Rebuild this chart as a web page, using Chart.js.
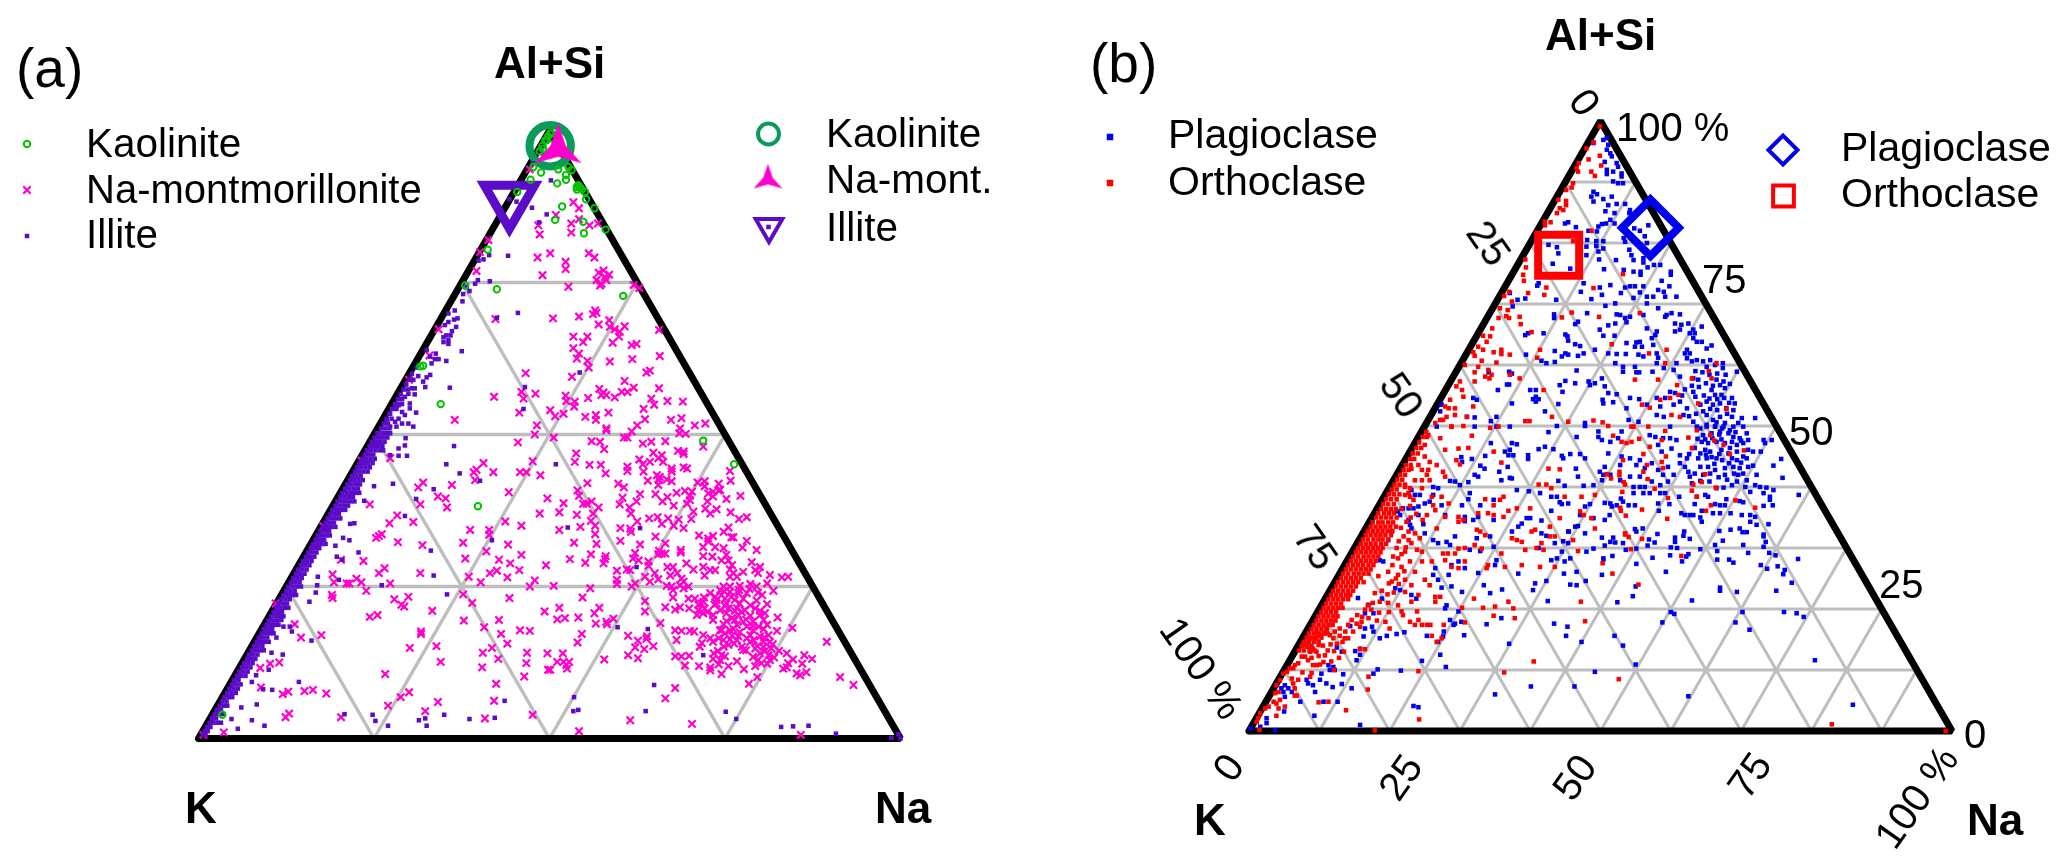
<!DOCTYPE html>
<html>
<head>
<meta charset="utf-8">
<title>Ternary plots</title>
<script src="https://cdn.jsdelivr.net/npm/chart.js@4/dist/chart.umd.js"></script>
<style>
  html, body { margin: 0; background: #fff; }
  #page { position: relative; width: 2067px; height: 863px; overflow: hidden; font-family: "Liberation Sans", Arial, sans-serif; color: #000; }
  #page canvas { position: absolute; top: 0; }
  .txt { position: absolute; white-space: pre; line-height: 1; }
</style>
</head>
<body>
<div id="page">
  <canvas id="panelA" width="1034" height="863" style="left:0"></canvas>
  <canvas id="panelB" width="1033" height="863" style="left:1034px"></canvas>
</div>
<script>
// All series are [base position %, Al+Si %].
// base position = Na + (Al+Si)/2, the usual ternary projection.
// xxxBand lists are rows for the crowded strip by the K side: [Al+Si, pos, pos, ...]

const gridA = [25, 50, 75];
const gridB = [10, 20, 30, 40, 50, 60, 70, 80, 90];

const meanKaolinite = [50.1, 97.5];
const meanNaMont = [51.25, 97.9];
const meanIllite = [44.3, 88.6];
const meanPlagioclase = [57.1, 82.5];
const meanOrthoclase = [44.05, 78];

const kaolinite = [
  45.4,89.9, 41.2,80.4, 38,74.5, 42.5,73.9, 60.5,72.8, 32,61.3, 31.6,61.2, 34.5,55, 50.8,85.3, 51.8,87.5, 54.8,85, 54.9,83.1,
  58,83.7, 56.4,87.2, 55.2,88.7, 55.05,89.9, 53.9,90.3, 54.1,91, 53.9,90.7, 54.3,90.7, 54.6,90.3, 51.1,91.3, 52.35,91.9, 52.35,92.7,
  53.15,93.5, 52.7,94, 51.25,93.6, 48.8,93.1, 47.3,91.9, 47.7,94, 50.1,99.5, 49.6,98.4, 49.1,97, 50.3,98.7, 50.5,96.8, 49,97.5,
  49.4,98.4, 49.8,99, 48.6,96.6, 50.3,99.5, 39.8,38.2, 3.4,3.9, 71.9,49, 76.3,45.1
];

const naMont = [
  41.3,82, 40.1,80, 47.2,93.6, 53.4,88.2, 54.2,87.2, 54.2,85.4, 55.7,84.4, 56.9,84.7, 53.1,84.7, 53.1,83.2, 50.9,86.1, 48.4,84.4, 48.6,82.9,
  50.1,79.8, 48.3,79.1, 55.6,79.8, 56.4,79.1, 52.3,78.4, 52.3,77.2, 49,76.2, 39.6,76.9, 57,76.6, 57.7,77, 58.5,76.3, 57.9,75.9, 56.7,75.4,
  57.4,74.8, 58.1,75.4, 57.2,74.5, 52.7,74.3, 62,74.6, 62.8,74.1, 56.5,70.4, 56.7,70, 56.2,69.8, 54.2,69.4, 50.5,69.1, 42.3,69, 34.2,67.3,
  32.9,63, 30,59, 57,68.1, 58.5,68.8, 58.6,67.7, 59.3,67.3, 60.7,67.8, 60,66.9, 59.9,66.1, 59,65.1, 65.6,67.2, 61.7,64.7, 62.4,64.9,
  53.4,66.1, 55.4,66.1, 54.8,65.2, 53.4,64.2, 54.2,63.3, 53.9,62.5, 55.4,62.1, 55.6,61, 58.6,62, 61.8,62.4, 65.7,62.9, 46.6,60.1, 53.2,59.5,
  60.7,58.8, 63.8,60.2, 64.3,60.5, 62,57.7, 65.6,57.6, 57.1,57.5, 57.4,56.5, 58.1,56.5, 57.7,56.9, 59.3,56.1, 60.3,57, 61.1,57, 42.1,56.2,
  46,57, 46.3,55.9, 48,56.7, 52.3,56.4, 52.4,55.5, 53.6,55.4, 53.5,54.6, 55.5,56, 64.5,55.9, 64.9,54.9, 66.8,55.5, 69,55.4, 63.4,54.2,
  50.1,54, 45.7,53.6, 50.8,53, 52,53.4, 36.5,52.4, 48.2,51.5, 55.1,52.9, 56.6,53.2, 56.6,52.4, 58.4,53.6, 63.6,52.5, 67.3,52.4, 68.8,52.7,
  62.5,51.5, 70.7,51.5, 72.2,51.8, 58.1,51, 68.6,51,
  47.9,50, 45.5,48.7, 47.6,45.6, 40.6,45.3, 39.6,44.2, 39.2,43.8, 42,43.8, 39.4,42.5, 45.8,43.8, 46.7,43.8, 48.7,43.3, 32,42.1, 31.3,41.3,
  36.1,41.7, 44.2,40.5, 34.1,39.8, 35.2,39.5, 31.6,38.5, 35.4,38, 49.7,39.5, 24.4,38.5, 48.6,37, 28.3,36.7, 27.2,35.4, 30.6,35.6, 43.7,35.7,
  46,35, 38.7,34.3, 41.4,34.3, 41.4,33.5, 26.1,33.6, 25.7,33.3, 25.3,33, 28.4,32.3, 31.9,31.8, 37.7,32.2, 44.1,31.9, 41,30.8, 46,30.2,
  38,29.6, 42.8,29.4, 44.4,28.8, 23.5,29.2, 20.3,29.4, 26.5,28, 25.7,27.2, 31.6,27.2, 45.7,27.7, 49.5,28.5, 42.5,27.6, 41.5,27.2, 38.5,26.6,
  44,26.5, 40.2,25.7, 47.9,26, 47.2,25, 19.1,27, 19.3,25.7, 22.5,26.3, 23.2,25.7, 21.1,25.5, 21.5,25.5, 27.3,25.5, 23.9,24.3, 19,23.6,
  19.1,23.1, 27.9,22.9, 29.9,23.3, 28.9,22, 29.3,21.7, 37.7,23.7, 39,22.3, 44.3,23.1, 33.3,21, 49.3,20.9, 24.4,20, 25.5,20.3, 37.8,19.4,
  42.8,19.5, 13.7,18.8, 40.7,18.3, 45.8,17.8, 47.2,17.7, 43.1,17.2, 31.7,17.6, 31.7,17.2, 14.6,16.6, 17.5,17, 44,15.6, 33.9,15.2, 30.1,14.9,
  41.8,14.9, 40.5,14.1, 46.8,14.1, 49.7,14, 42.7,13.1, 34.5,12.6, 46.7,12.4, 10.2,12.3, 11.5,12.5, 8.8,11.6, 40.4,11.7, 49.8,11.3, 46.4,10.2,
  26.6,10.6, 42.4,9, 8.9,8.4, 30,7.6, 28.8,6.8, 12,7.3, 12.8,7.7, 15.1,7.8, 16.3,8, 18.2,7.4, 34.1,6, 42.1,6.2, 27,5.4, 32.3,4.5, 12.9,4.1,
  12.4,3.5, 20.3,3.5, 40.8,3.3, 47.6,3.9, 3.6,1, .7,.6, 23.2,45.7, 17.8,34.9, 11,22.2, 27.3,46.1,
  50.6,49.5, 56,48.9, 57.2,48.8, 57.8,47.6, 60.6,49.5, 61.1,49.5, 63.3,48.5, 64.5,48.8, 66.5,48.9, 68.5,50.2, 69.4,50.1, 71.9,48, 61.7,50.5, 58.1,50.7,
  53.8,46.9, 53.6,45.5, 68.3,47.3, 69.1,47.2, 69.1,46.8, 64.8,47, 66,46.6, 65.5,46.1, 64.3,45.5, 62.8,45.9, 66.2,45.5, 63.3,45.1, 55.7,45, 57.3,45,
  61.1,44.7, 61.1,44, 58,43.6, 63.4,43.9, 67.4,44.4, 67.4,43.9, 69.1,44.6, 69.6,44.4, 75.7,44, 65.3,43.3, 65.7,43, 65.6,42.5, 64,42.4, 66.7,42.6,
  67.4,42.3, 55.4,42, 59.8,41.9, 60.6,41.3, 65.5,41.7, 71.1,42.1, 72.1,42.3, 74.1,41.9, 75.8,42.4, 72.1,41.5, 54,40.8, 54.2,39.9, 62.9,40.2,
  65.1,40.2, 68.1,40.4, 69.3,40.7, 70.3,40.6, 70,39.9, 70,39.2, 66.8,39.7, 60.4,39.6, 72.6,40.3, 73.3,40.6, 74.1,40.8, 73.3,39.8, 75.2,39.4,
  77.2,39.9, 74.3,40.9, 52,38.7, 54.8,38.6, 55.3,38.6, 56,39, 57,38, 60,38.5, 62.4,39, 66.1,39, 67.7,38.3, 69.6,38.6, 72.5,39, 61.4,38, 61.6,37,
  56.2,37, 51.4,37.2, 70.5,37.3, 72.2,37.8, 73.8,37.7, 72.9,37, 75.8,37.2, 53.9,36.8, 64.2,36.2, 65.4,36.4, 66.9,36.2, 68.4,36, 70.2,36.1, 77,36.1,
  78.1,36.4, 55.9,35.8, 62.5,35.7, 66,35.3, 67.7,35, 56.5,35, 54.4,34.8, 60.1,34.6, 61.5,34.5, 51.4,34.3, 69.1,34.6, 75.5,34.7, 56.5,33.6, 61.6,34,
  65.1,33.2, 71.3,33.4, 72.6,32.9, 73.3,33.3, 74.8,34, 75.9,33.1, 76.2,33.1, 78.1,32.5, 53.5,32.2, 60.1,32.5, 72.6,32.4, 56.7,32, 62.9,31.9, 66.5,32.1,
  71.9,31.5, 73.6,31.5, 74.8,31.3, 77.5,31.4, 79.5,31, 68.7,31, 68.7,30.6, 65.6,30.9, 65.5,30.3, 66,30.4, 66.5,30.4, 62.2,30.5, 55.9,30.3, 58,30,
  71.9,30, 73.2,29.9, 75.2,30.2, 52.9,29.5, 57.9,29.5, 55.1,28.9, 57.7,28.8, 61.9,29.6, 62.7,29.3, 64.1,29.1, 69.5,28.8, 70.5,27.8, 78.8,29, 74.5,29.3,
  75.5,29.3, 76,28.5, 66.8,28.2, 67.6,28.2, 64.1,28.4, 71.9,28.2, 80,28.2, 79.3,27.7, 72.9,27.7, 73.6,27.7, 75.7,27.8, 59.6,27.6, 61,27.8, 61.5,27.7,
  65,27.2, 67.2,26.8, 68.2,27.2, 72.1,26.8, 76.2,27.2, 77.6,27.4, 79.7,27.2, 81.4,26.9, 83.1,26.5, 84,26.6, 59.6,26.1, 63.6,26.6, 65.5,26.2, 68.8,26.3,
  76.7,26.6, 75.7,26.6, 64.3,25.8, 59.6,25.4, 62.2,25.5, 69.1,25.8, 81,25.5, 78.6,25.4, 61.7,25, 66.7,25.1, 67.4,25, 68.6,25.2, 50.6,25.1, 55.8,24.7,
  74.8,25, 75.7,25, 77.1,25.1, 79.5,25, 67.6,24.4, 69.1,24.7, 69.8,25, 72.9,23.9, 74.3,24.4, 75.7,24.1, 76.9,23.9, 78.1,23.9, 79.7,24, 81.9,24.3,
  54.7,23.2, 63.6,22.6, 67.6,23.2, 69.8,23, 70.7,23, 71.9,22.5, 73.6,23.3, 75,23, 76.4,22.8, 77.6,23, 79.5,22.7, 81,22.1, 71.2,22, 75.2,22.2, 73.8,22.2,
  51.4,21.5, 57.1,21.5, 66.5,21.6, 67.9,21.2, 68.6,21.6, 69.9,21.4, 71.2,21.1, 72.1,21.4, 74.3,21.1, 75.5,21.4, 76.7,21.4, 77.8,21.1, 79.3,21.4, 80.7,20.6,
  56.4,20.6, 63.6,20.9, 71,20.3, 71.9,20.6, 73.3,20.3, 75.2,20.6, 76.9,20.3, 78.6,20.2, 80,20.3, 82.5,19.9, 51.1,19.6, 52.2,19.8, 54.1,19.9, 59.1,19.7,
  58.1,19.2, 56.6,18.9, 58.2,18.8, 65.8,19, 73.3,19.5, 76.4,19.5, 77.6,19.2, 79,19.2, 80.5,19.5, 74.8,18.8, 76.7,18.7, 78.1,18.4, 79.8,18.4, 81,18.7,
  82.4,17.7, 84.6,18.2, 67.9,17.8, 68.8,17.7, 70,17.7, 70.6,17.6, 74.5,17.8, 75.7,17.8, 79,17.8, 54.6,17.2, 61.2,16.9, 63.9,16.8, 68.1,16.2, 71.9,17,
  72.9,16.5, 74.1,16.5, 75,17.3, 76,16.9, 76.9,16.8, 78.6,17, 80,16.8, 81.2,17, 81.4,15.9, 54,15.8, 62.6,16.1, 63.8,16.4, 89.5,15.9, 71.7,15.7, 73.3,15.9,
  74.8,16.2, 76.7,16.2, 78.6,15.9, 80.5,15.9, 64.8,15.2, 62.2,15, 63.5,14.7, 71.4,15.1, 74.8,15.1, 77.4,15.1, 79.3,14.8, 80.5,15.1, 81.6,14.8, 82.7,14.4,
  83.8,14, 86.3,13.7, 51.9,14, 61.2,13.7, 67.9,13.5, 68.8,13.5, 69.9,13.6, 74.5,13.7, 75,13.5, 77.6,14.6, 80,14, 81.2,13.7, 62.6,13.2, 57.8,13, 73.3,13.1,
  74.3,12.9, 76.7,12.7, 79.7,12.9, 81.4,12.9, 84.7,13, 87.4,13.1, 51.1,12.6, 52,12.6, 52.8,12.6, 52.4,12.1, 52.5,11.5, 69.3,12, 71.3,11.9, 72.9,11.7,
  74.1,12.2, 75.5,11.9, 79.3,11.9, 80.2,12.4, 84,12.4, 83.3,11.5, 86,12.3, 77.7,11.4, 50.1,11.3, 72.9,11.2, 74.5,10.6, 83.8,11.7, 85.2,10.7, 86.6,10.9,
  85.7,10.4, 79.6,10.1, 91.4,10.1, 78.4,9, 93.3,8.8, 67.9,8.3, 66.5,6.6, 61.5,3, 70.3,2.4, 54.2,1.2, 85.8,.6,
  73.8,22.8, 74.5,23.6, 75.9,23.3, 77.1,22.2, 78.6,21.9, 80,21, 77.4,20.8, 76,19.8, 75.2,19.3, 74.3,17.8, 76.2,18, 77.1,17.5, 75.7,16.3, 78.1,16.5,
  79.1,16.2, 80.6,16.6, 81.8,15.5, 79.6,15.2, 78,14.5, 76.3,15.6, 75.5,15.4, 74,14.4, 73.4,14, 80.7,14.4, 82,13.3, 79,13.4, 81,12.3, 80.5,18, 79,18.5,
  78,19.6, 76.4,21, 75,21.8, 73.5,22, 72.5,20.8, 71.6,22.2, 72,23.2, 74.9,24.2, 77,24.4, 78.5,24.6, 80.3,23.6
];

const illite = [
  44.3,88.7, 45.3,88.3, 47.5,87.3, 49.6,86.2, 48.5,84.9, 50.2,91.8, 49.4,98.4, 48.7,96.9, 49.1,96.2, 47.6,94.6, 44.1,79.4, 41.4,79.5, 40.6,78.8, 39.9,78.6,
  39.8,75.4, 39.4,74.8, 41.5,75.2, 38.2,74.3, 38.6,73.6, 37.7,73.1, 37.6,71.9, 45.5,70, 42.5,69.2, 36.5,70.4, 35.6,69.9, 36.9,69.1, 36.4,68.9, 35.6,68.5,
  35.1,68, 36.7,67.7, 36.1,67, 35.9,66.3, 35.3,66.3, 34.9,65.2, 35.6,65.5, 35.6,64.9, 34.9,66, 37.5,63.7, 32.5,63.9, 33.8,63.3, 33,62.8, 34.2,62.4,
  33.7,62.4, 35.3,62.1, 33.2,61.7, 31.1,61, 31.3,59.6, 33,59.8, 32.5,59.4, 32,58.7, 32.3,57.8, 35.8,57.7, 30.8,57.6, 30.4,57.6, 29.9,56.7, 29.4,56.2,
  30.8,56.6, 30.1,55.1, 30.1,54.3, 28.5,54.8, 28,54.3, 29,53.7, 27.3,53.4, 31,53.6, 28.5,52.6, 29.4,53.2, 28,52.1, 26.8,52.4, 29,51.8, 29.9,51.8,
  30.6,51.3, 27.3,51.3, 28.2,51.3, 46.3,54.2, 46.5,57.8, 54.3,60.2,
  29.5,49.4, 29.4,48.2, 28.5,47.7, 28.5,46.5, 29.7,46.5, 27.3,46.6, 36.4,48.1, 35.3,45.1, 37.2,43.6, 27.7,41.9, 25,41.5, 40.1,42.4, 33.5,41, 31,39.4, 23.6,39.1,
  29.4,36.6, 22.2,35.4, 21.6,35.3, 20.6,33, 21.5,32.6, 19.5,31.7, 33.1,30.9, 22.8,30.6, 19.7,29.9, 20.5,29.4, 41.8,32.6, 17,26.6, 16.9,25.2, 20,26.1, 33.5,26.8,
  26.1,25.2, 16.7,24, 15.8,22.5, 35.4,23.7, 13,18.4, 12.1,18.4, 11.8,19.5, 11.1,16.6, 13.3,17.6, 16.1,16.1, 10.4,14.1, 12,13.8, 10,11.3, 8.2,10.4, 7.6,9.3,
  14.3,9.3, 9.2,8.1, 10.5,8, 8.3,5.6, 6.1,5.1, 4.7,3.2, 7.6,3, 9.4,2.1, 5.6,1.6, 3.2,2.6, 20.8,4, 24.8,3.9, 25.2,2.9, 27,2.1, 31.4,3, 32.3,3.3, 32.5,2.1,
  35,3.9, 38.6,3.2, 42.2,3.4, 43.6,6.2, 50.9,45.1, 52.6,34.7, 62.9,34.6, 62.4,28.2, 59.7,18.3, 64,18, 71.9,13.7, 64.9,8.8, 53.5,6.8, 53.4,4.5, 54.1,4.7,
  63.7,4.5, 75.1,4.4, 76.6,3.2, 83,1.9, 84.7,2, 86.9,2.1, 90.8,.8, 98.7,.1, 99.7,.7, 100,0
];

const illiteBand = [
  [.6,.6,1],[1.2,.9,1.3],[1.9,1.2,1.7],[2.6,1.6,2.1,2.7],[3.3,1.9,2.5],[4,2.3,2.9,3.5],[4.7,2.6,3.2],[5.4,3,3.6,4.1],[6.1,3.4,4],[6.8,3.7,4.3,4.8],
  [7.5,4.1,4.7,5.3],[8.2,4.4,5,5.6],[8.9,4.8,5.4,6],[9.6,5.1,5.7],[10.3,5.5,6.1,6.7],[11,5.8,6.4,7],[11.7,6.2,6.8,7.4],[12.4,6.5,7.1,7.7],[13.1,6.9,7.5,8.1],
  [13.8,7.2,7.8,8.4],[14.5,7.6,8.2,8.8,9.3],[15.2,7.9,8.5,9.1],[15.9,8.3,8.9,9.5,10],[16.6,8.6,9.2,9.8],[17.3,9,9.6,10.2,10.7],[18,9.3,9.9,10.5],
  [18.7,9.7,10.3,10.9,11.4],[19.4,10,10.6,11.2],[20.1,10.4,11,11.6,12.1],[20.8,10.7,11.3,11.9],[21.5,11.1,11.7,12.3,12.8],[22.2,11.4,12,12.6],[22.9,11.8,12.4,13],
  [23.6,12.1,12.7,13.3,13.9],[24.3,12.5,13.1,13.7],[25,12.8,13.4,14,14.6],[25.7,13.2,13.8,14.4],[26.4,13.5,14.1,14.7],[27.1,13.9,14.5,15.1],[27.8,14.2,14.8,15.4],
  [28.5,14.6,15.2,15.8],[29.2,14.9,15.5,16.1],[29.9,15.3,15.9,16.5],[30.6,15.6,16.2,16.8],[31.3,16,16.6,17.2],[32,16.3,16.9,17.5,18.1],[32.7,16.7,17.3,17.9],
  [33.4,17,17.6,18.2,18.7],[34.1,17.4,18,18.6],[34.8,17.7,18.3,18.9,19.5],[35.5,18.1,18.7,19.3],[36.2,18.4,19,19.6,20.2],[36.9,18.8,19.4,20],[37.6,19.1,19.7,20.3,20.9],
  [38.3,19.5,20.1,20.7,21.3],[39,19.8,20.4,21,21.6,22.2],[39.7,20.2,20.8,21.4,22],[40.4,20.5,21.1,21.7,22.3,22.9],[41.1,20.9,21.5,22.1,22.7],[41.8,21.2,21.8,22.4,23],
  [42.5,21.6,22.2,22.8,23.4],[43.2,21.9,22.5,23.1],[43.9,22.3,22.9,23.5,24.1],[44.6,22.6,23.2,23.8,24.4],[45.3,23,23.6,24.2,24.8],[46,23.3,23.9,24.5,25.1],
  [46.7,23.7,24.3,24.9],[47.4,24,24.6,25.2,25.8,26.3],[48.1,24.4,25,25.6,26.2],[48.8,24.7,25.3,25.9,26.5],[49.5,25.1,25.7,26.3,26.9],[50.2,25.5,26.1,26.7,27.3],
  [51,26,26.6,27.2],[51.8,26.4,27],[52.6,26.8,27.5],[53.4,27.2],[54.2,27.6,28.2],[55,28,28.6,29],[55.8,28.4,29],[56.6,28.8],[57.4,29.2,29.8],[58.2,29.6],[59,30,30.6],[60,30.4]
];

const plagioclase = [
  49,96.4, 50.4,96.9, 50.9,97.2, 51.1,96.1, 51.4,94.7, 50.9,95.3, 51.6,94.2, 50.6,93.3, 52.3,93.1, 52.5,92.5, 50.9,92, 51.8,91.7, 50.9,91.3, 53,91.4, 53,90.9,
  51.8,90.1, 52.5,89.8, 53.2,89.8, 49,88.4, 49.5,88, 48.7,87.6, 49,86.8, 51.6,87.6, 50.4,87.2, 51.1,86.2, 52.3,86.4, 53.5,86.4, 50.7,85.2, 52,84.9, 54.2,85.4,
  51.4,83.8, 50.8,83.2, 50.2,83.1, 49.7,82.7, 52,83.2, 44.95,83.2, 45.4,83.4, 46.5,82.6, 49.5,81.9, 48.3,82, 54.1,84.9, 54.4,84.6, 54.8,82.4, 55.6,82, 56.8,82.9,
  56.3,81.1, 53.3,80.8, 53.5,80.2, 56.6,80, 49.4,80.3, 50.4,80.3, 49.4,79.5, 48,79.4, 50.4,79.1, 49.7,78.6, 42.6,79.7, 43.8,79.3, 44,78.3, 43.2,76.6, 45.7,75.8,
  48.1,80.5, 48,78, 54.1,78.9, 54.4,78, 54.7,77.2, 56.1,77.5, 56.1,76.8, 49.8,77.3, 52.2,77.2, 50.5,75.7, 53.3,75.6, 54.7,75.3, 55.7,75.3, 55.7,74.8, 56.7,76,
  57.6,76.4, 58.5,76.4, 60,75.3, 60,74.8, 58.7,73.8, 59.8,72.9, 47.6,73.4, 49.9,72.7, 50.2,71.5, 47.2,72, 48.7,70.8, 51.4,73.1, 53.5,72.7, 54.2,72.9, 54.9,72.9,
  52.9,71.8, 54.7,71, 55.6,71.9, 56.1,72.9, 56.6,71.2, 57.5,71.2, 58.2,72.3, 59.2,71.2, 60.8,71.2, 59,72, 41.2,73.4, 41,73, 43.7,70.7, 38.2,70.7, 37.1,71.8,
  37.5,69.6, 39.3,70.9, 50.7,69.7, 52.1,70.1, 56.6,70.1, 58.2,69.3, 59.4,68.2, 59.2,67.9, 60.1,68.5, 61.3,68.3, 43.4,68.3, 43.4,67.7, 48.1,68.5, 46.8,67.1, 46.4,66.7,
  52.3,68.3, 52.8,68.2, 49.9,65.8, 51.1,66.5, 52.1,66.8, 53.5,67.7, 54.2,67.9, 53.7,67, 56.1,68.2, 56.6,66, 50.4,64.8, 52,64.8, 45,65, 45.3,64.7, 45.4,64, 41.9,65.2,
  39.3,64.9, 39.7,65.2, 60.6,66.8, 61.5,66.6, 62.5,66.8, 64.4,66.3, 60.6,65.5, 61.3,65.8, 63.2,65.8, 62.7,65.2, 63.4,65.2, 58,65.5, 57.8,64.9, 57.3,64.4, 46.4,63.4,
  47.1,63.1, 55.1,63.7, 55.6,63.8, 54.9,63, 55.9,63, 53.7,63.6, 57.5,63.3, 63.2,64.4, 63.7,63.8, 64.4,63.8, 65.8,63.2, 62.3,62.5, 65.1,62.7, 62,61.9, 62.7,61.9,
  49.2,62.5, 51.1,61.9, 52.3,61.8, 53.6,61.8, 55.4,61.7, 56.1,61.4, 58,61.9, 58.2,61.2, 43.5,62.3, 45,61.9, 44.5,61.4, 45.4,61.7, 46.8,61.5, 47.6,61.9, 39.4,61.7,
  41.6,60.7, 43.5,60.5, 42.3,60.3, 62.3,61.1, 63,60.6, 63.7,60.8, 64.6,60.6, 65.6,60.8, 65.1,59.7, 66.3,60, 67.4,60.3, 67.4,59.5, 60.8,60.3, 60.4,59.2, 52.1,60.3,
  53.2,59.7, 54.9,59.7, 58,60.3, 59,59.5, 34.1,58.8, 37,58.9, 37.4,58.6, 46.6,59.1, 53.2,58.9, 55.1,58.8, 55.5,58.8, 57.4,58.9, 69.4,58.9, 61.3,58.1, 63.2,57.8,
  63.9,57.6, 66.5,57.6, 67.5,57.3, 48.3,57.3, 45,57.4, 46.4,57, 44.2,56.7, 50.2,57.8, 49.2,57, 48.5,56.7, 50.6,56.5, 36.7,56.8, 37,56.8, 35.4,55.9, 40,55.9, 40.8,55.9,
  40.8,54.8, 40.4,54.4, 41.2,54.4, 40.8,54, 44.6,55.6, 51.1,55.4, 52.3,55.2, 50.3,54.3, 54.2,54.6, 55.5,54.4, 58,54.6, 59.2,54.6, 60.6,55.4, 59.9,55.6, 63.2,55.6,
  65.8,55.9, 67,56.7, 67.7,56.2, 66.3,55.1, 67.2,55.1, 68.7,54.6, 69.1,53.7, 42.1,52.4, 44,53.6, 37.4,53.7, 31.9,54.6, 32.4,54.3, 50.4,53.7, 51.8,53.9, 53.7,52.9,
  56.6,53.5, 58.5,53.2, 60.4,53.5, 61.3,54, 62.3,52.9, 64.2,53.5, 65.1,54, 66,53.5, 67,53.7, 67.9,52.9, 68.9,52.6, 70.1,51.3, 72,51.3, 54,51, 55.4,50.7, 35.2,51.5,
  34.4,50.8, 31,51.5, 32.1,51.4, 27.4,53.5, 27.2,52.4, 47.8,50.5, 58,51.8, 59,51.5, 61.8,51.8, 63.2,50.7, 65.1,51.8, 66,51, 67,51.5, 67.7,50.5, 68.7,51.5, 69.6,50.5,
  65.1,50.2, 66.3,49.9, 59.9,49.9, 63.7,49.9,
  74.35,47.7, 73.2,47.7, 73.4,47.2, 72.8,45.8, 75.7,44.6, 74.6,43.5, 75.9,41.5, 78.2,38.7, 64.2,49.6, 65.1,49.9, 66.3,49.9, 67.5,49.9, 68.9,49.9, 70.3,49.9,
  64.6,48.5, 65.8,48.8, 67,49.1, 68.2,48.8, 68.9,48.2, 70.8,48.8, 69.8,48, 64.4,47.4, 65.3,47.2, 66.5,47.4, 67.7,47.2, 68.7,47.4, 70.3,47.2, 71,47.7, 69.4,46.9,
  64.9,46.1, 64.2,45.5, 65.6,45.8, 67.2,46.1, 68.2,45.5, 69.4,45.8, 71,46.1, 71.7,45.8, 70.3,45, 63.9,44.7, 65.1,44.7, 66.5,44.7, 68.7,44.7, 69.4,44.4, 70.8,44.7,
  62.3,44.7, 61.3,45.2, 60.1,46.3, 60.8,47.7, 59.9,48, 58.9,48, 58.2,46.9, 58.7,45.8, 57.8,48.2, 57,48.5, 64.2,43.3, 65.3,43.3, 66.3,42.8, 67.7,43.1, 68.9,43.3,
  69.8,43.1, 71,43.3, 71.7,43.5, 72.2,42, 62,43.3, 61.3,43.9, 62.5,42.5, 62.7,41.7, 63.4,42.2, 64.6,42, 65.6,42.2, 67.7,42, 69.6,42, 70.3,42.2, 70.8,41.1, 72,40.3,
  69.4,40.9, 70.6,40, 68.7,40.3, 66.5,39.8, 67.5,39.9, 53,49.1, 52.5,48, 51.4,47.4, 51.1,45.5, 52.8,43.6, 53,45, 54.2,44.7, 55.1,43.6, 55.6,44.4, 56.3,43.1, 57.3,43.9,
  58.2,42.8, 59.6,43.3, 60.4,42, 58.9,42, 59.6,40.9, 58.5,40.3, 57.3,40.9, 56.3,40, 55.6,40, 54.7,40, 52.8,41.1, 51.4,42, 50.6,43.3, 50.4,42, 54.2,41.7, 55.6,41.7,
  74.6,39.5, 73.6,39.9, 72.7,40, 71.3,39.2, 73.2,39, 74.1,38.4, 74.1,37.9, 69.8,37.7, 70.3,37.5, 67.9,38, 67,37, 66.3,37.2, 67.7,37, 73.2,36.9, 74.5,37, 64.9,38.7,
  65.3,38.4, 63.4,37.2, 63.7,38.4, 61.2,38.4, 59.8,37.2, 58.2,37.3, 59.2,39, 58.5,39, 57,39, 56.1,39, 54.7,39, 54.9,37, 54,37, 52.9,38.1, 53.2,37.6, 51.4,37.3, 51.6,36.8,
  52.3,37, 50.6,37.4, 58.3,36.1, 61.5,35.7, 62,35.4, 62.7,35.4, 63.2,35.4, 64.4,36.1, 66,35.7, 67,35.7, 68.5,35.7, 70.1,35.4, 71.3,35.4, 72,35.1, 71.3,34.3, 72.2,33.8,
  73.9,33.9, 64.2,35, 64.4,34.3, 51.3,35.4, 50.6,34.6, 56,33.2, 54.9,33.1, 55.1,32.7, 58.1,32.3, 66.9,32.8, 68.5,33, 69.8,33.2, 70.2,32.6, 70.8,32.6, 73.2,32.2, 73.2,31.9,
  61.9,32.7, 61.8,32, 60.6,31.7, 60.6,31, 62.7,31.5, 67.4,31.2, 73.5,31, 51.8,31.7, 51.4,31, 52.1,30.9, 53.2,30.8, 50.2,31.7, 56.9,31.4, 57.7,30.9, 50.6,30.4, 66.3,30.5,
  70.3,30.5, 73.2,30.2, 56.7,30.4, 60,30.1, 60.9,30, 64.2,29.8, 53.6,29.7, 55.1,29.9, 66.6,29.5, 71,29.2, 74,29.2, 74.9,28.8, 51.7,28.7, 57.4,28.4, 59.9,28.8, 62.5,29,
  62.2,28.6, 61.6,27.8, 66.6,28.1, 68.3,28.1, 68.9,27.6, 78.1,28.2, 50.4,28.1, 55.1,27.4, 72.8,27.2, 75.2,27, 73.7,26.6, 76.2,26.4, 76,25.7, 59.3,26.1, 50.2,25.6, 77.2,24.3,
  55,23.7, 67,23.5, 67,23, 69.4,22.8, 75,23, 54.6,22.1, 63,21.4, 52.4,21.1, 60,19.5, 60.5,19.2, 70.2,19.5, 76.1,19.5, 77.9,19.3, 78.9,18.7, 58.8,17.8, 69.2,17.8, 71.2,16.6,
  52,15.6, 53.2,14, 80.5,11.6, 55,10.9, 62.5,5.7, 85.9,4.3,
  26.7,49.9, 32.1,49.9, 35.2,49.9, 37.1,49.9, 43.8,50, 47.8,50, 42.6,49, 46.6,48.2, 49.7,48.2, 50.2,47.7, 49.7,49.1, 34.4,47.2, 37.4,47.2, 38.1,47, 41.2,46.2, 42.1,46.6,
  43.3,46.2, 44.5,45.1, 44.7,44.7, 45.7,45.4, 47.1,45.4, 47.8,44.7, 36.4,45.8, 37.1,46.1, 36.9,45.2, 37.6,45.2, 39.7,45.2, 39.7,44.6, 33.6,45.1, 30.2,44.9, 30.3,44.1,
  31.7,44.6, 32.9,43.5, 33.5,43, 36.8,43.3, 35.6,42.5, 46.5,43, 44,41, 46.8,41.7, 49.9,42.5, 50.2,41.1, 32.1,42, 32.6,41.7, 28.6,41, 29.3,40.9, 35.9,41.1, 37.1,41.5,
  37.4,41.4, 31.2,40.8, 30,40.3, 49,40.3, 47.6,40.2, 44.9,40.2, 41.4,39, 39.8,39.3, 38.1,39.5, 26.2,40, 26.9,39.8, 23.1,39.5, 23.6,38.7, 24.3,38.7, 26.2,38.7, 31.4,39,
  31.2,38, 32.9,37, 34.8,37.9, 25,37.3, 25.7,37.6, 27.4,37, 30.3,37, 21.9,36.5, 22.7,36.5, 23.4,36.5, 24.1,36.8, 24.1,35.4, 21.2,36, 21.5,35.4, 27.9,35.4, 30.7,35.1,
  30.7,34.4, 31.9,34.6, 32.6,35.1, 34.8,34.6, 39.5,34.9, 40,34.9, 41.6,34.5, 43,38.4, 43.8,38.4, 44.2,37.5, 44.5,37.2, 45.4,37.3, 47.8,36.8, 48.5,37.2, 43,36.1, 47.1,35.4,
  49,34.9, 46.4,33.5, 46.8,33.6, 45.5,32.7, 22.7,34.6, 22.9,33.8, 23.1,33.2, 24.8,33.9, 19.8,31.3, 20.3,32.7, 25,32.4, 29.3,31.9, 28.1,31, 28.6,30.5, 26.2,31.3, 26.9,30.8,
  38.3,33.5, 38.8,34, 37.4,32.7, 34.3,31.9, 32.4,31.6, 41.6,32.4, 42.3,32, 43.5,30.8, 44.7,31.1, 45.4,30.8, 44.5,29.4, 49,29.9, 48,29.4, 45.4,32.7, 47.8,32.4, 34.8,30.2,
  32.9,29.5, 31.4,29.7, 41.2,30, 43,28, 43.8,28.3, 44.9,27.8, 45.7,28.3, 50.4,28.3, 18.6,28, 19.1,27.8, 26.5,26.7, 26.2,25.6, 26.9,24.8, 28.8,27.2, 29.8,27.8, 30.7,26.7,
  28.4,25.6, 32.6,25.9, 35.2,28, 35,27.2, 38.3,25.8, 40.7,24.2, 42.3,24.6, 44.8,25.8, 46.6,26.1, 47.9,24.6, 45.7,24, 46.6,23.9, 20.8,23.4, 21.5,23.1, 27.4,23.5, 28.8,23.7,
  30.3,22.8, 33.4,23.9, 34.3,22.6, 36,23.2, 40.4,23.1, 42.5,21.3, 23.1,22.3, 23.8,21.7, 18.9,21.7, 15.5,21.8, 17,20.7, 28.1,20.6, 27.9,20.1, 29.8,19.6, 17.7,19.3, 16.5,19.3,
  28.6,18.2, 29.1,17.4, 29.3,17.6, 30.2,17.9, 33.8,17.5, 35.9,18.5, 43.4,17.6, 45.3,17.1, 45.1,15.6, 47.3,14.6, 14.4,17.2, 16.5,16.8, 17.5,17.1, 17.7,16.3, 16.3,15.5, 18.6,15.2,
  19.6,15.6, 21,15.9, 22.1,16.2, 25.3,15.6, 26.9,14.6, 27.7,16.3, 27.6,15.5, 30.6,15.7, 37,14.3, 12.5,13.7, 13.2,13, 15.8,13.5, 15.1,13.1, 15.8,12.5, 15.3,11.6, 27.2,12.5,
  24.6,11.5, 28,10.5, 21.6,9.9, 18.3,10.1, 17.7,9.4, 14.6,7, 13.4,9.3, 12.2,10, 11.3,10.8, 11.5,10, 12,10.5, 10.3,9.4, 10.1,8.4, 8.2,8.4, 8.4,7.8, 9.1,7.5, 9.4,6.4, 11,7.8,
  11.9,7.2, 13.2,7.7, 7.3,4.8, 10.6,4.8, 12.6,4.8, 5.1,7.5, 5.6,7, 4.6,7, 4.9,6.4, 6.1,6.4, 5.1,5.6, 5,3.2, 2.5,2.1, 2.5,1.3, 9.3,2.5, 23.4,4.1, 24.1,3.9, 15.8,1, 3.7,.1,
  .2,.4, 1.6,.7, 35,6, 40.1,7.3, 46.3,7.3, 49.2,9.7,
  63.5,59, 64.5,58.8, 65.5,58.4, 66.6,58.6, 67.8,58.4, 68.4,56.9, 66,56.6, 65,57, 64,56.4, 63,56.6, 62,56, 61.6,55, 63.5,54.8, 64.7,55, 65.5,54.5, 66.6,54.4, 67.6,54.6,
  68.3,53.8, 65.6,52.8, 66.6,52.6, 64.6,52.4, 63.6,52, 62.6,51.6, 66.5,50.6, 68,52, 67.3,49.6, 68.4,49.3, 66.9,48.6, 65.9,48, 64.9,47.8, 63.8,47.9, 69.2,49, 70,47.6,
  67.2,47.8, 68.4,46.4, 66.9,45.4, 65.8,44.9, 67.3,44.4, 63.4,46.4, 62.6,45.4, 65,45.3, 66.2,43.8, 68.3,43.9, 70,44, 69,42.2, 66.8,41.6, 64.2,41, 63,40.6, 68,41.2, 65.5,40.9
];

const orthoclase = [
  49.9,99.1, 49,96.5, 48,95.5, 48.3,93.7, 49.9,94.3, 50.1,92.7, 46.9,93.1, 46.6,92.3, 46.8,91.7, 48.7,91.7, 49.2,91, 46.1,89.8, 45.9,89.1, 45.1,88.7, 44,87.1, 45.1,86.9,
  45.1,86.2, 44.7,85.4, 44.2,85.7, 43.8,84.9, 42.9,83.4, 42.1,83.5, 42.1,82.9, 48.7,82, 46.1,80.3, 39.3,77.3, 39.4,76, 39,74.8, 39.1,73.8, 42.3,72.7, 42,71.5, 39.7,71.8,
  37,72, 36.3,71.3, 49,72.6, 53.2,74.9, 37.4,70.4, 35.7,69.3, 36.8,69, 36.6,68, 35.5,67.7, 37,67.7, 38.5,67.9, 38.65,66.7, 44.5,67.8, 45.9,68.6, 49.8,67.9, 55.6,68.5,
  34.6,66, 33.3,64.8, 34.3,64.7, 40.2,65.4, 33.8,63.8, 32.6,63, 33.3,62.5, 31.9,62.1, 32.1,61.5, 35.9,62.5, 34.8,62.1, 35.9,61.8, 37.1,61.7, 41.4,62.5, 41,61.2, 51.6,63.4,
  59.4,62.5, 56.9,61.9, 59.2,60.3, 66.5,60.3, 33.1,60.7, 35.2,60.4, 30.7,60, 32.6,59.7, 32.1,58.8, 34.05,59.2, 34.5,58.4, 33.6,58.1, 34.2,57.8, 37.1,58.4, 38.5,57.8, 65.4,59,
  30,57.3, 32.1,57.3, 29.5,56.5, 30.3,55.9, 30.5,54.8, 63,57.8, 54.9,57.6, 58.2,57.6, 65.8,57.8, 60.9,56.7, 59.9,54.6, 61.1,55.1, 63.9,53.7, 41.9,55.9, 28.6,54.3, 27.9,53.2,
  28.4,52.9, 29.3,52.9, 28.1,51.5, 27.6,51, 27.2,51, 29.3,51.8, 28.8,49.9, 26.5,50.5, 31,51.5, 31.9,53.2, 55.9,53.5, 57,53, 58.5,54.3, 67.9,52.8, 60.1,51.8, 61.3,51.5, 39.3,50.8,
  39.9,50.8, 43.1,51.5, 45.4,50.7, 49,50.9, 50.3,50.6, 54.7,49.9, 35.5,49.9,
  53,47.4, 53.7,47.2, 54.4,47.4, 55.5,47.9, 57,46.6, 58.7,47.7, 59.2,49.2, 56.8,49.9, 54.4,49.9, 51.1,50, 51.8,48.4, 62.5,48.1, 63.7,49.3, 65.6,48.5, 66.2,47.6, 67.5,46.9, 63,46.4,
  70.4,46, 68.4,45.4, 56.1,45.4, 53.2,44.4, 58.7,44.1, 59.3,45, 56.6,43.6, 58.9,43.1, 52.7,42.5, 56.1,42.5, 52.7,41.9, 50.9,42.1, 51.5,41.4, 56.7,41.3, 53.3,40.8, 53.5,40.4,
  57.7,39.7, 53.1,39.2, 64.9,42.1, 63.2,40.4, 64.4,40.8, 66.4,39.9, 63,39.4, 59.6,38.2, 63.7,38.4, 69.2,37.8, 72,36.6, 65.7,37, 65,36.1, 52.8,36.6, 52.9,36.1, 55.9,36.3, 53.6,35.3,
  59.5,34.8, 53.5,32.4, 53.5,32.2, 54,31.8, 55.9,31.5, 54.3,29.8, 61.5,28.7, 50.3,27.5, 51.7,25.8, 55.4,24, 52.6,8.5, 82.9,1.1, 99.1,0,
  27.9,46.1, 29.8,46.3, 31.2,46.4, 29.5,44.4, 30,43.7, 35.9,44, 34.8,45.8, 31.7,48.4, 30.5,50, 34.3,49.7, 28.8,49.9, 25.5,48.5, 27.2,48, 25,46.9, 25,45, 25.7,44.1, 24.6,42.8,
  25.5,42.8, 26.7,43.6, 27.6,42.5, 27.9,41.7, 23.6,41.1, 24.6,41.1, 25.7,41.1, 25.3,42, 22.2,40, 22.9,39.8, 22.2,38.7, 22.9,38.4, 24.6,39.8, 26,38.4, 27.4,38.4, 28.4,37.3, 26.2,37,
  26.5,36.2, 27.9,35.1, 29.8,35.1, 33.6,38, 34.8,37, 35.7,37.9, 36.2,38.4, 36.9,36.1, 38.1,36.5, 40,36.5, 32.6,35.7, 34,35.7, 34.8,35.4, 36.2,35.1, 42.6,43, 44.2,42.9, 41.2,40.4,
  42.3,40.4, 43,39.8, 44.9,38.4, 47.3,38.4, 49.2,38.7, 47.1,36, 47.6,35.4, 48.7,34.9, 42.8,33.5, 44.2,34.9, 46.1,31.3, 49.2,33.2, 30.5,34.6, 29.8,34.3, 32.4,33, 32.9,32.7, 33.6,32.1,
  37.4,31.6, 38.1,31.3, 38.8,31, 40.2,32.7, 40.7,33, 41.6,30.8, 42.8,31.9, 43.5,31.9, 26.7,33.2, 23.6,32.4, 22.7,32.7, 24.3,31.6, 23.1,30.8, 22.7,31.3, 24.6,29.4, 23.9,29.7, 22.2,29.4,
  27.6,29.1, 28.3,29.1, 29.8,29.9, 29.3,29.1, 30.7,30, 32.1,30.5, 33.1,29.9, 35.9,29.1, 39.3,29.7, 40.9,30, 41.9,29.7, 46.8,29.5, 36.4,26.9, 38.8,27.2, 41.4,26.9, 43.5,26.9, 20.5,28.6,
  21.2,28.3, 22.9,27.8, 24.6,27.8, 26,27.8, 27.9,28, 28.8,26.9, 29.8,26.7, 30.7,27.8, 33.8,26.7, 34,27.2, 19.8,26.1, 21.7,26.9, 21.2,25.6, 20.3,24.5, 23.6,26.1, 25,24.8, 25.7,23.9,
  23.1,23.9, 22.2,22.8, 24.1,22.3, 26.5,22, 27.2,22, 26.5,21.2, 32,21.7, 36.9,21.2, 37.6,20.1, 47.2,21.2, 30.3,20.2, 33.3,20.2, 35,20.4, 21.2,20.6, 23.1,21.2, 21.7,19.6, 21.9,19, 23.9,19.6,
  34.8,18.9, 37.8,18.5, 47.8,18, 24.1,18.2, 22.9,17.9, 23.6,17.4, 24.6,17.4, 25.3,17.4, 25.8,17.4, 27.7,17.4, 30.7,17.8, 20,16.8, 15.8,17.1, 15.3,17.6, 16,17.9, 14.1,15.2, 14.8,16.3,
  26,15.6, 26.7,14.6, 27.4,15.2, 13.7,16.3, 12.9,16.8, 12.2,16.3, 11.5,15.7, 10.8,16, 10.1,15.7, 9.4,15.2, 11.1,16.8, 12,15.2, 8.7,15.2, 9.6,16, 7.9,14.6, 9.9,14.1, 9.1,13.5, 8.7,13,
  8.4,13.8, 9.6,13, 7.7,14.1, 7.97,12.2, 8.4,11.6, 7.5,12.2, 9.6,10.8, 9.1,10.8, 10.1,10.9, 7,11.1, 6.5,10.8, 5.8,10.3, 5.4,9.7, 4.9,9.4, 6.3,10.3, 8.9,9.5, 8.7,8.9, 12.1,10, 6.1,8.6,
  6.3,7.8, 6.5,7, 4.4,8.3, 3.9,7.5, 4.2,6.4, 3.7,6.2, 3.5,4.8, 6.8,5.8, 6.5,5.8, 4.4,5.1, 3.9,4.5, 2.8,4, 2.3,3.7, 1.6,2.9, 1.3,2.1, 1.1,1.5, 4.2,3.7, 3.9,2.5, 5.1,4, 9.9,4.7, 11.3,4.8,
  13.8,3.4, 24.1,9.8, 16.9,6.8, 17,8.9, 15.8,13.4, 16.5,13.4, 13.5,13, 36.3,9.6, 40.5,11.4, 24.2,1.9, 17.9,.1, 1.5,.2,
  23.1,43, 24.1,43.6, 22.7,39, 23.4,37.9, 22.9,36.9, 23.8,35.6, 22.4,34.3, 23,35, 25.3,35.4, 24.7,34.6, 21.6,33.3, 22,31.9, 21.3,31.1, 22.3,30.1, 21,30, 21.7,29, 20.4,27.2, 22.1,26.2,
  20.9,25, 19.9,24.2, 21.3,24.1, 22.2,24.8, 18.4,25.4, 18.9,23, 19.7,22.4, 20.6,22.7, 17.9,22.6, 18.6,21.2, 19.8,21, 16.9,20.6, 17.6,21, 16.5,19.9, 17.4,19.9, 18.5,19.4, 19.9,19.5,
  15.4,19, 16.1,18.7, 17,18.5, 18.2,18.1, 19.4,17.9, 14.6,18.2, 14.1,17.4, 13.6,15.2, 12.9,15.6, 13.3,14.6, 12.5,14.3, 11.6,14.2, 12.1,13.1, 11.2,13.2, 10.5,14, 10.8,12.4, 9.9,12.3,
  10.6,11.3, 11.7,11.4, 12.8,12, 8.9,12, 7.6,9.6, 7,8.4
];

const orthoclaseBand = [
  [49,25.2],[48.2,24.7,25.3],[47.3,24.2],[46.4,23.8,24.5],[45.5,23.3,24],[44.6,22.9,23.5],[43.6,22.3,23],[42.8,22,22.7],[42,21.5,22.2],[41.2,21.1,21.8],[40.4,20.7,21.4,22.2],
  [39.6,20.3,21],[38.8,19.9,20.6,21.4],[38,19.5,20.2,21],[37.2,19.1,19.8,20.6],[36.4,18.8,19.5,20.2,20.9,21.7],[35.7,18.4,19.2,19.9,20.6],[35,18.1,18.8,19.5,20.2,21],
  [34.2,17.6,18.4,19,19.8,20.5],[33.5,17.3,18,18.7,19.4,20.1,20.9],[32.8,16.9,17.6,18.3,19,19.7,20.4],[32.1,16.6,17.3,18,18.7,19.4,20.2],[31.4,16.2,16.9,17.7,18.4,19,19.8],
  [30.7,15.9,16.6,17.3,18,18.8,19.5],[30,15.5,16.2,16.9,17.6,18.3,19],[29.3,15.2,15.9,16.6,17.3,18,18.7],[28.6,14.8,15.5,16.3,17,17.7,18.4],[27.9,14.5,15.2,15.9,16.6,17.3,18],
  [27.2,14.1,14.8,15.5,16.2,17,17.7],[26.5,13.8,14.5,15.2,15.9,16.6,17.3],[25.8,13.4,14.1,14.9,15.6,16.3,17],[25.1,13.1,13.8,14.5,15.2,15.9],[24.4,12.7,13.4,14.1,14.8,15.5,16.3],
  [23.7,12.4,13.1,13.8,14.5,15.2],[23,12,12.7,13.4,14.1,14.8],[22.3,11.7,12.4,13.1,13.8,14.4],[21.6,11.3,12,12.7,13.4,14.1],[20.9,11,11.7,12.4,13.1],[20.2,10.6,11.3,12,12.7,13.3],
  [19.5,10.3,11,11.7,12.4],[18.8,9.9,10.6,11.3,12,12.6],[18.1,9.6,10.3,11,11.7,12.3],[17.4,9.2,9.9,10.6,11.3,11.9],[16.7,8.9,9.6,10.3,11],[16,8.5,9.2,9.9,10.6,11.2],
  [15.3,8.2,8.9,9.6,10.3],[14.6,7.8,8.5,9.2,9.9],[13.9,7.5,8.2,8.9],[13.2,7.1,7.8,8.6,9.3]
];

// --- helpers ---
const pairs = (flat) => {
  const out = [];
  for (let i = 0; i < flat.length; i += 2) out.push({ x: flat[i], y: flat[i + 1] });
  return out;
};
const bandPoints = (rows) => rows.flatMap(([y, ...xs]) => xs.map(x => ({ x, y })));
const gap = { x: NaN, y: NaN };
const framePoints = pairs([0,0, 50,100, 100,0, 0,0]);

// grid lines of the ternary diagram, one break between each segment
function gridPoints(levels) {
  const pts = [];
  levels.forEach(t => {
    pts.push({ x: t / 2, y: t }, { x: 100 - t / 2, y: t }, gap);
    pts.push({ x: t, y: 0 }, { x: t / 2, y: t }, gap);
    pts.push({ x: t, y: 0 }, { x: 50 + t / 2, y: 100 - t }, gap);
  });
  return pts;
}

// the three-pointed marker has no built-in Chart.js style
function starMarker(scale, color) {
  const c = document.createElement('canvas');
  c.width = Math.ceil(47 * scale);
  c.height = Math.ceil(41 * scale);
  const ctx = c.getContext('2d');
  ctx.scale(scale, scale);
  ctx.fillStyle = color;
  ctx.beginPath();
  [[23.3, .3], [31, 23], [46.7, 40.3], [23.3, 34], [0, 40.3], [15.6, 23]].forEach(([x, y], i) => i ? ctx.lineTo(x, y) : ctx.moveTo(x, y));
  ctx.closePath();
  ctx.fill();
  return c;
}

const COLORS = {
  kaolinite: '#00c400', kaoliniteMean: '#0a9a5a', naMont: '#ff00cc', illite: '#5a0cc8',
  plagioclase: '#0000f0', orthoclase: '#ff0000', grid: '#bebebe', frame: '#000'
};

const MARKS = {
  kaolinite: { pointStyle: 'circle', radius: 3.2, borderWidth: 2, fill: 'transparent', stroke: COLORS.kaolinite },
  naMont: { pointStyle: 'crossRot', radius: 5.2, borderWidth: 2.2, fill: 'transparent', stroke: COLORS.naMont },
  illite: { pointStyle: 'rect', radius: 3.2, borderWidth: 0, fill: COLORS.illite, stroke: COLORS.illite },
  plagioclase: { pointStyle: 'rect', radius: 3.2, borderWidth: 0, fill: COLORS.plagioclase, stroke: COLORS.plagioclase },
  orthoclase: { pointStyle: 'rect', radius: 3.2, borderWidth: 0, fill: COLORS.orthoclase, stroke: COLORS.orthoclase },
  kaoliniteMean: { pointStyle: 'circle', radius: 20.7, borderWidth: 8, fill: 'transparent', stroke: COLORS.kaoliniteMean },
  illiteMean: { pointStyle: 'triangle', rotation: 180, radius: 29, borderWidth: 9, fill: 'transparent', stroke: COLORS.illite },
  plagioclaseMean: { pointStyle: 'rectRot', radius: 28.3, borderWidth: 8, fill: 'transparent', stroke: COLORS.plagioclase },
  orthoclaseMean: { pointStyle: 'rect', radius: 29, borderWidth: 8, fill: 'transparent', stroke: COLORS.orthoclase },
  naMontMean: { pointStyle: starMarker(1, COLORS.naMont), radius: 20, borderWidth: 0, fill: COLORS.naMont, stroke: COLORS.naMont },
  keyKaolinite: { pointStyle: 'circle', radius: 10.5, borderWidth: 4, fill: 'transparent', stroke: COLORS.kaoliniteMean },
  keyNaMont: { pointStyle: starMarker(.62, COLORS.naMont), radius: 14, borderWidth: 0, fill: COLORS.naMont, stroke: COLORS.naMont },
  keyIllite: { pointStyle: 'triangle', rotation: 180, radius: 15.4, borderWidth: 4, fill: 'transparent', stroke: COLORS.illite },
  keyPlagioclase: { pointStyle: 'rectRot', radius: 14.5, borderWidth: 4, fill: 'transparent', stroke: COLORS.plagioclase },
  keyOrthoclase: { pointStyle: 'rect', radius: 14.7, borderWidth: 4, fill: 'transparent', stroke: COLORS.orthoclase },
  keyDotBlue: { pointStyle: 'rect', radius: 4.6, borderWidth: 0, fill: COLORS.plagioclase, stroke: COLORS.plagioclase },
  keyDotRed: { pointStyle: 'rect', radius: 4.6, borderWidth: 0, fill: COLORS.orthoclase, stroke: COLORS.orthoclase }
};

function scatter(points, m) {
  return {
    data: points, showLine: false, pointStyle: m.pointStyle, pointRadius: m.radius, pointRotation: m.rotation || 0,
    pointBorderWidth: m.borderWidth, pointBackgroundColor: m.fill, pointBorderColor: m.stroke
  };
}
function lines(points, color, width, join) {
  return { data: points, showLine: true, spanGaps: false, pointRadius: 0, borderColor: color, borderWidth: width, borderJoinStyle: join, borderCapStyle: 'round', tension: 0 };
}

// legend glyphs are painted with the library's own point routine
const keyPlugin = {
  id: 'keyMarks',
  afterDraw(chart, args, opts) {
    const ctx = chart.ctx;
    opts.items.forEach(([m, x, y]) => {
      ctx.save();
      ctx.fillStyle = m.fill;
      ctx.strokeStyle = m.stroke;
      ctx.lineWidth = m.borderWidth;
      Chart.helpers.drawPoint(ctx, { pointStyle: m.pointStyle, radius: m.radius, rotation: m.rotation || 0, borderWidth: m.borderWidth }, x, y);
      ctx.restore();
    });
  }
};

function ternaryChart(id, box, datasets, keyItems) {
  return new Chart(document.getElementById(id), {
    type: 'scatter',
    data: { datasets },
    plugins: [keyPlugin],
    options: {
      responsive: false,
      animation: false,
      events: [],
      layout: { padding: 0, autoPadding: false },
      plugins: { legend: { display: false }, tooltip: { enabled: false }, keyMarks: { items: keyItems } },
      scales: {
        x: { display: false, type: 'linear', min: -box.x0 / box.ux, max: (box.w - box.x0) / box.ux },
        y: { display: false, type: 'linear', min: (box.y0 - 863) / box.uy, max: box.y0 / box.uy }
      }
    }
  });
}

// first dataset ends up on top in Chart.js
ternaryChart('panelA', { x0: 198.5, y0: 738.5, ux: 7.02, uy: 6.08, w: 1034 }, [
  scatter(pairs(meanNaMont), MARKS.naMontMean),
  scatter(pairs(kaolinite), MARKS.kaolinite),
  scatter(pairs(illite).concat(bandPoints(illiteBand)), MARKS.illite),
  scatter(pairs(naMont), MARKS.naMont),
  scatter(pairs(meanKaolinite), MARKS.kaoliniteMean),
  scatter(pairs(meanIllite), MARKS.illiteMean),
  lines(framePoints, COLORS.frame, 7, 'bevel'),
  lines(gridPoints(gridA), COLORS.grid, 3.5, 'miter')
], [
  [MARKS.kaolinite, 27, 144], [MARKS.naMont, 27, 190], [MARKS.illite, 27, 236],
  [MARKS.keyKaolinite, 768.5, 134], [MARKS.keyNaMont, 768.5, 176.5], [MARKS.keyIllite, 769, 226.7], [MARKS.illite, 768.5, 227]
]);

ternaryChart('panelB', { x0: 215, y0: 731, ux: 7.03, uy: 6.1, w: 1033 }, [
  scatter(pairs(orthoclase).concat(bandPoints(orthoclaseBand)), MARKS.orthoclase),
  scatter(pairs(plagioclase), MARKS.plagioclase),
  scatter(pairs(meanOrthoclase), MARKS.orthoclaseMean),
  scatter(pairs(meanPlagioclase), MARKS.plagioclaseMean),
  lines(framePoints, COLORS.frame, 7, 'bevel'),
  lines(gridPoints(gridB), COLORS.grid, 3, 'miter')
], [
  [MARKS.keyDotBlue, 76, 137], [MARKS.keyDotRed, 76, 183],
  [MARKS.keyPlagioclase, 749, 150], [MARKS.keyOrthoclase, 749.5, 196]
]);

// --- text: [string, left x, baseline y, font size, bold] ---
const page = document.getElementById('page');
const flatText = [
  ['(a)', 16, 88, 55, 0], ['Al+Si', 494, 78, 44, 1], ['K', 185, 823, 44, 1], ['Na', 875, 823, 44, 1],
  ['Kaolinite', 86, 157, 40.5, 0], ['Na-montmorillonite', 86, 203, 40, 0], ['Illite', 86, 248, 40.5, 0],
  ['Kaolinite', 826, 147, 40.5, 0], ['Na-mont.', 826, 193, 40.5, 0], ['Illite', 826, 241, 40.5, 0],
  ['(b)', 1090, 83, 55, 0], ['Al+Si', 1545, 50, 44, 1], ['K', 1194, 835, 44, 1], ['Na', 1967, 835, 44, 1],
  ['Plagioclase', 1168, 149, 41, 0], ['Orthoclase', 1168, 196, 41, 0],
  ['Plagioclase', 1841, 162, 41, 0], ['Orthoclase', 1841, 208, 41, 0],
  ['100 %', 1616, 141, 40, 0], ['75', 1702, 293, 40, 0], ['50', 1789, 445, 40, 0], ['25', 1879, 598, 40, 0], ['0', 1964, 748, 40, 0]
];
flatText.forEach(([s, x, base, size, bold]) => {
  const el = document.createElement('div');
  el.className = 'txt';
  el.textContent = s;
  el.style.cssText = `left:${x}px;top:${base - 0.8465 * size}px;font-size:${size}px;font-weight:${bold ? 700 : 400}`;
  page.appendChild(el);
});

// rotated ticks of panel b: [string, centre x, centre y, degrees]
const leftTicks = [['0', 1585, 102, 55], ['25', 1489, 243, 55], ['50', 1401.5, 395, 55], ['75', 1316, 547, 55], ['100 %', 1202, 668, 55]];
const bottomTicks = [['0', 1228, 767, -55], ['25', 1400, 777, -55], ['50', 1574, 777, -55], ['75', 1749, 775, -55], ['100 %', 1916, 797, -55]];
leftTicks.concat(bottomTicks).forEach(([s, x, y, deg]) => {
  const el = document.createElement('div');
  el.className = 'txt';
  el.textContent = s;
  el.style.cssText = `left:${x}px;top:${y}px;font-size:40px;transform:translate(-50%,-50%) rotate(${deg}deg)`;
  page.appendChild(el);
});
</script>
</body>
</html>
